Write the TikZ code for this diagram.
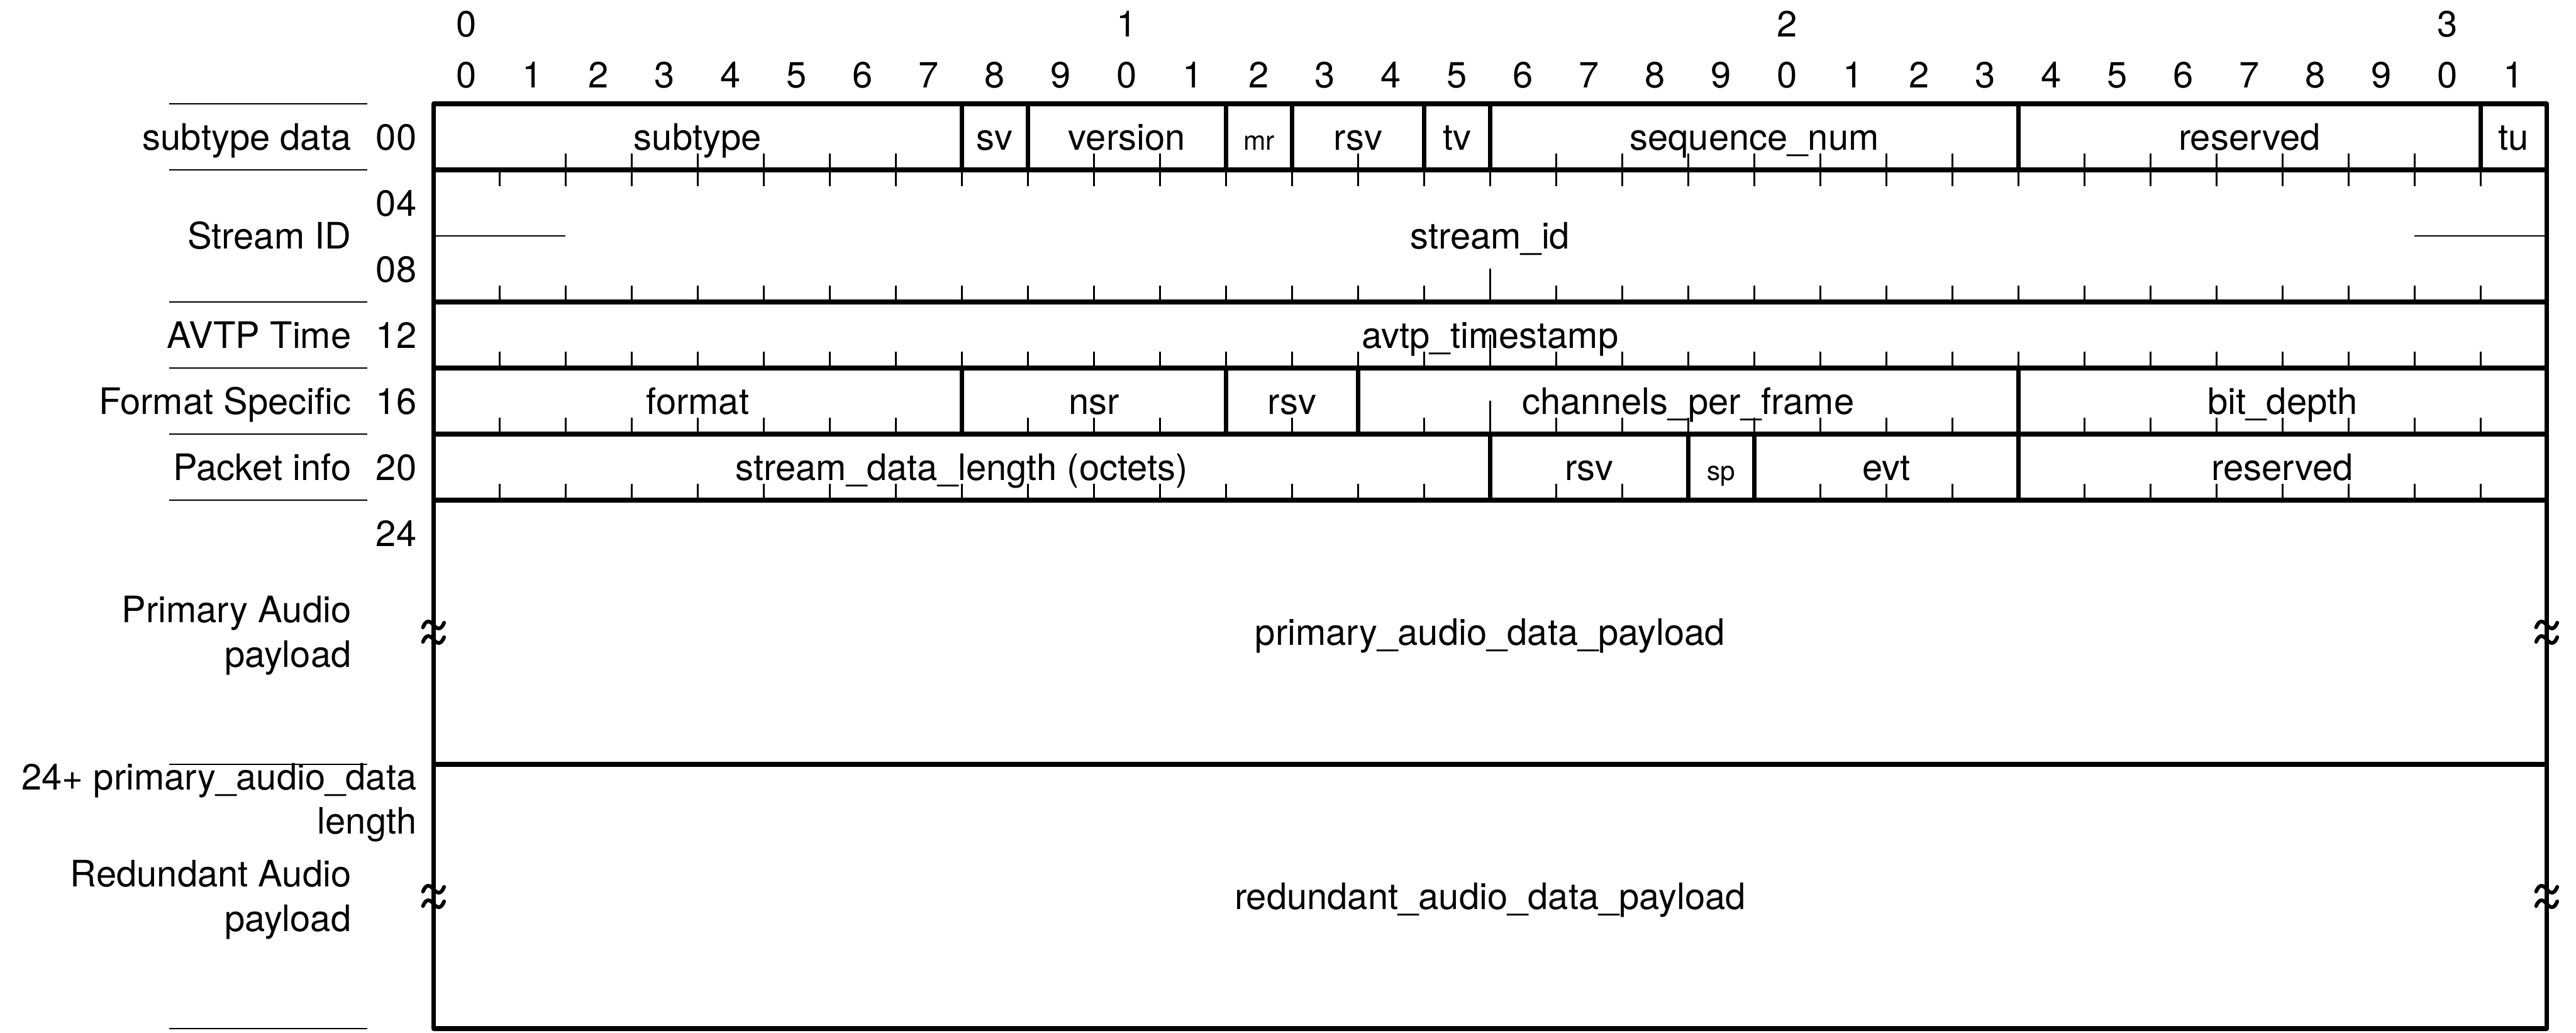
\documentclass[tikz,border=0pt]{standalone}
\usepackage{fontspec}
\setmainfont{TeX Gyre Heros}
\begin{document}
\begin{tikzpicture}[x=1cm,y=1cm,
  frame/.style={line width=1.95pt, line join=round},
  hair/.style={line width=0.7pt},
  txt/.style={font=\fontsize{15.7}{19}\selectfont, inner sep=0pt},
  fld/.style={txt, text height=11.3pt, text depth=0pt},
  small/.style={fld, font=\fontsize{11.5}{14}\selectfont},
  lbl/.style={fld, anchor=east},
  mlbl/.style={txt, anchor=east, align=right},
  brk/.pic={
    \foreach \dy in {0.11,-0.11}
      \draw[line width=1.6pt, line cap=round]
        (-0.16,\dy-0.035) .. controls (-0.11,\dy+0.09) and (-0.05,\dy+0.06) .. (0,\dy)
        .. controls (0.05,\dy-0.06) and (0.11,\dy-0.09) .. (0.16,\dy+0.035);
  }]
\useasboundingbox (-6.565,-14.059) rectangle (32.444,1.571);

% ---- bit numbering above the words ----
\foreach \t in {0,1,2,3}
  \node[fld] (dec\t) at (10*\t+0.5,1.21) {\t};
\foreach \i in {0,...,31}{
  \pgfmathtruncatemacro\d{mod(\i,10)}
  \node[fld] (bit\i) at (\i+0.5,0.44) {\d};
}

% ---- tick marks at bit boundaries ----
\foreach \i in {2,...,31}
  \draw[hair] (\i,-1) -- ++(0,0.25);
\foreach \i in {1,...,31}{
  \draw[hair] (\i,-1) -- ++(0,-0.25);
  \pgfmathsetmacro\tl{ifthenelse(\i==16,0.5,0.25)}
  \draw[hair] (\i,-3) -- ++(0,\tl);
  \draw[hair] (\i,-4) -- ++(0,\tl);
  \draw[hair] (\i,-5) -- ++(0,\tl);
  \draw[hair] (\i,-6) -- ++(0,0.25);
}
% partial middle line of the 64-bit stream_id
\draw[hair] (0,-2) -- (2,-2);
\draw[hair] (30,-2) -- (32,-2);

% ---- outer frame, word boundaries and field boundaries ----
\draw[frame] (0,0) rectangle (32,-14);
\foreach \y in {1,3,4,5,6,10}
  \draw[frame] (0,-\y) -- (32,-\y);
\foreach \x in {8,9,12,13,15,16,24,31}
  \draw[frame] (\x,0) -- (\x,-1);
\foreach \x in {8,12,14,24}
  \draw[frame] (\x,-4) -- (\x,-5);
\foreach \x in {16,19,20,24}
  \draw[frame] (\x,-5) -- (\x,-6);

% break marks on the variable-length payloads
\pic at (0,-8) {brk};
\pic at (32,-8) {brk};
\pic at (0,-12) {brk};
\pic at (32,-12) {brk};

% ---- field names ----
\node[fld] (subtype) at (4,-0.5) {subtype};
\node[fld] (sv) at (8.5,-0.5) {sv};
\node[fld] (version) at (10.5,-0.5) {version};
\node[small] (mr) at (12.5,-0.5) {mr};
\node[fld] (rsv0) at (14,-0.5) {rsv};
\node[fld] (tv) at (15.5,-0.5) {tv};
\node[fld] (seq) at (20,-0.5) {sequence\_num};
\node[fld] (res0) at (27.5,-0.5) {reserved};
\node[fld] (tu) at (31.5,-0.5) {tu};

\node[fld] (sid) at (16,-2) {stream\_id};
\node[fld] (ts) at (16,-3.5) {avtp\_timestamp};

\node[fld] (format) at (4,-4.5) {format};
\node[fld] (nsr) at (10,-4.5) {nsr};
\node[fld] (rsv1) at (13,-4.5) {rsv};
\node[fld] (cpf) at (19,-4.5) {channels\_per\_frame};
\node[fld] (depth) at (28,-4.5) {bit\_depth};

\node[fld] (sdl) at (8,-5.5) {stream\_data\_length (octets)};
\node[fld] (rsv2) at (17.5,-5.5) {rsv};
\node[small] (sp) at (19.5,-5.5) {sp};
\node[fld] (evt) at (22,-5.5) {evt};
\node[fld] (res1) at (28,-5.5) {reserved};

\node[fld] (pri) at (16,-8) {primary\_audio\_data\_payload};
\node[fld] (red) at (16,-12) {redundant\_audio\_data\_payload};

% ---- octet offsets ----
\foreach \o/\y in {00/0.5,04/1.5,08/2.5,12/3.5,16/4.5,20/5.5,24/6.5}
  \node[lbl] (off\o) at (-0.25,-\y) {\o};
\node[mlbl] (offvar) at (-0.25,-10.58) {24+ primary\_audio\_data\\length};

% ---- group names and their separators ----
\foreach \y in {0,1,3,4,5,6,10,14}
  \draw[hair] (-4,-\y) -- (-1,-\y);
\node[lbl] (gsub) at (-1.24,-0.5) {subtype data};
\node[lbl] (gsid) at (-1.24,-2) {Stream ID};
\node[lbl] (gtime) at (-1.24,-3.5) {AVTP Time};
\node[lbl] (gfmt) at (-1.24,-4.5) {Format Specific};
\node[lbl] (gpkt) at (-1.24,-5.5) {Packet info};
\node[mlbl] (gpri) at (-1.24,-8.05) {Primary Audio\\payload};
\node[mlbl] (gred) at (-1.24,-12.05) {Redundant Audio\\payload};
\end{tikzpicture}
\end{document}
